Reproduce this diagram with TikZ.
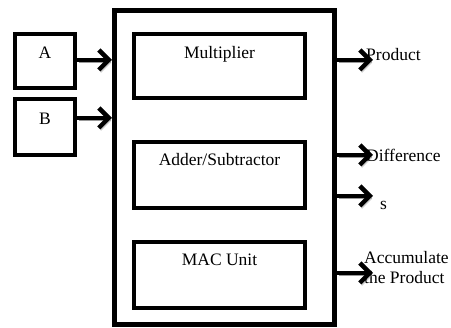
\documentclass[tikz,border=0pt]{standalone}
\usepackage{fontspec}
\setmainfont{Liberation Serif}
\usepackage{tikz}
\usetikzlibrary{positioning,arrows.meta}

\begin{document}
\begin{tikzpicture}[x=1pt, y=-1pt,
    box/.style={draw, line width=4.5pt, inner sep=0pt},
    lbl/.style={font=\fontsize{17.5}{20}\selectfont, inner sep=0pt},
    arr/.style={line width=4.5pt, -{Straight Barb[length=10pt, width=20pt, line width=4.5pt]},
        preaction={draw=black!40, transform canvas={shift={(2pt,-2.5pt)}}}}]
    \useasboundingbox (0,0) rectangle (451,328);

    % Boxes
    \node[box, line width=5pt, minimum width=220pt, minimum height=314pt] (MAC) at (224.5,167.5) {};
    \node[box, minimum width=60pt, minimum height=54pt] (A) at (45,61) {};
    \node[box, minimum width=60pt, minimum height=56pt] (B) at (45,127) {};
    \node[box, minimum width=171pt, minimum height=64pt] (mul) at (219.5,66) {};
    \node[box, minimum width=171pt, minimum height=66pt] (add) at (219.5,175) {};
    \node[box, minimum width=171pt, minimum height=66pt] (acc) at (219.5,275) {};

    % Labels
    \node[lbl, below=15pt of A.north] (tA) {A};
    \node[lbl, below=16pt of B.north] (tB) {B};
    \node[lbl, below=14pt of mul.north] (tmul) {Multiplier};
    \node[lbl, below=13pt of add.north] (tadd) {Adder/Subtractor};
    \node[lbl, below=14pt of acc.north] (tacc) {MAC Unit};

    % Outputs
    \coordinate (oP) at (373,60);
    \coordinate (oD) at (373,155);
    \coordinate (oS) at (373,196);
    \coordinate (oA) at (373,273);
    \node[lbl, anchor=west] (tP) at (366,55) {Product};
    \node[lbl, anchor=west] (tD) at (366,155) {Difference};
    \node[lbl, anchor=west] (tS) at (380,205) {s};
    \node[lbl, anchor=west, align=left] (tAcc) at (364,268) {Accumulate\\the Product};

    % Arrows
    \draw[arr] (A.east |- 0,60) -- (MAC.west |- 0,60);
    \draw[arr] (B.east |- 0,118) -- (MAC.west |- 0,118);
    \draw[arr] (MAC.east |- oP) -- (oP);
    \draw[arr] (MAC.east |- oD) -- (oD);
    \draw[arr] (MAC.east |- oS) -- (oS);
    \draw[arr] (MAC.east |- oA) -- (oA);
\end{tikzpicture}
\end{document}
